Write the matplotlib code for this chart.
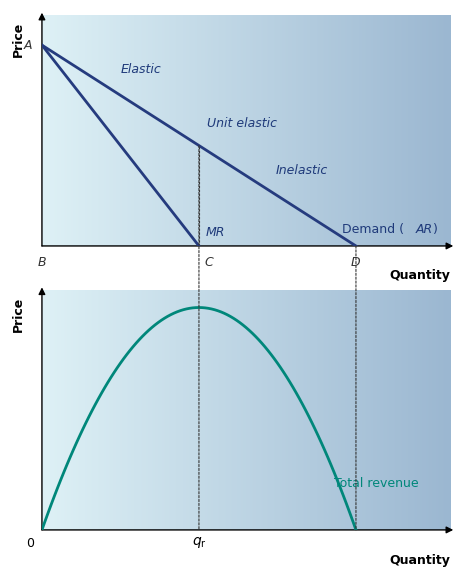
import matplotlib.pyplot as plt
import numpy as np
from matplotlib.colors import LinearSegmentedColormap
from matplotlib.patches import ConnectionPatch

# demand: P = 10 - Q, MR = 10 - 2Q, TR = Q * (10 - Q)
demand_q = [0, 10]
demand_p = [10, 0]
mr_q = [0, 5]
mr_p = [10, 0]
tr_q = np.linspace(0, 10, 101)
tr_vals = tr_q * (10 - tr_q)

navy = '#253b7e'
teal = '#00877a'
cmap = LinearSegmentedColormap.from_list('bg', ['#def1f6', '#9bb7d1'])

fig = plt.figure(figsize=(4.66, 5.76), dpi=100)
ax1 = fig.add_axes([0.090, 0.573, 0.876, 0.401])
ax2 = fig.add_axes([0.090, 0.080, 0.876, 0.417])

grad = np.linspace(0, 1, 256).reshape(1, -1)
for ax, ymax in [(ax1, 11.5), (ax2, 27)]:
    ax.set_xlim(0, 13)
    ax.set_ylim(0, ymax)
    ax.imshow(grad, cmap=cmap, extent=[0, 13, 0, ymax], aspect='auto', zorder=0)
    for s in ax.spines.values():
        s.set_visible(False)
    ax.set_xticks([])
    ax.set_yticks([])
    ax.annotate('', xy=(13.1, 0), xytext=(0, 0), annotation_clip=False,
                arrowprops=dict(arrowstyle='-|>', lw=1, color='black', shrinkA=0, shrinkB=0))
    ax.annotate('', xy=(0, ymax * 1.01), xytext=(0, 0), annotation_clip=False,
                arrowprops=dict(arrowstyle='-|>', lw=1, color='black', shrinkA=0, shrinkB=0))
    ax.text(-0.75, ymax * 0.97, 'Price', rotation=90, fontweight='bold', fontsize=9,
            ha='center', va='top')
    ax.text(13.0, -ymax * 0.1, 'Quantity', fontweight='bold', fontsize=9, ha='right', va='top')

ax1.plot(demand_q, demand_p, color=navy, lw=2, zorder=3)
ax1.plot(mr_q, mr_p, color=navy, lw=2, zorder=3)
ax1.plot([5, 5], [0, 5], color='#333333', lw=0.8, ls=(0, (2, 1.5)), zorder=2)

tc = '#1f3a7a'
ax1.text(-0.3, 10, 'A', style='italic', color='#333333', fontsize=9, ha='right', va='center')
ax1.text(0, -0.5, 'B', style='italic', color='#333333', fontsize=9, ha='center', va='top')
ax1.text(5.3, -0.5, 'C', style='italic', color='#333333', fontsize=9, ha='center', va='top')
ax1.text(10, -0.5, 'D', style='italic', color='#333333', fontsize=9, ha='center', va='top')
ax1.text(2.5, 8.6, 'Elastic', style='italic', color=tc, fontsize=9, ha='left')
ax1.text(5.25, 5.9, 'Unit elastic', style='italic', color=tc, fontsize=9, ha='left')
ax1.text(7.45, 3.6, 'Inelastic', style='italic', color=tc, fontsize=9, ha='left')
ax1.text(5.2, 0.5, 'MR', style='italic', color=tc, fontsize=9, ha='left')
ax1.text(9.55, 0.65, 'Demand (', color=tc, fontsize=9, ha='left')
ax1.text(11.9, 0.65, 'AR', style='italic', color=tc, fontsize=9, ha='left')
ax1.text(12.45, 0.65, ')', color=tc, fontsize=9, ha='left')

ax2.plot(tr_q, tr_vals, color=teal, lw=2, zorder=3)
ax2.text(9.3, 4.8, 'Total revenue', color=teal, fontsize=9, ha='left')
ax2.text(-0.25, -0.8, '0', fontsize=9, ha='right', va='top')
ax2.text(5, -0.6, '$q_\\mathrm{r}$', fontsize=10, ha='center', va='top')

for x0, y_top, y_bot in [(5, 5, 25), (10, 0, 0)]:
    con = ConnectionPatch(xyA=(x0, y_top), coordsA=ax1.transData,
                          xyB=(x0, 0), coordsB=ax2.transData,
                          color='#333333', lw=0.8, ls=(0, (2, 1.5)), zorder=2)
    fig.add_artist(con)

fig.savefig('out.png', dpi=100)
